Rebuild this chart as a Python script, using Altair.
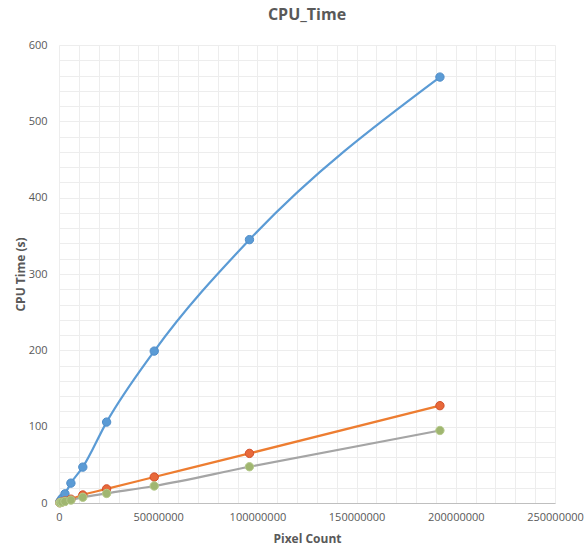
import altair as alt
import pandas as pd

pixels = [375000, 750000, 1500000, 3000000, 6000000, 12000000, 24000000, 48000000, 96000000, 192000000]
series_blue = [1.5, 3, 6, 12, 26, 47, 106, 199, 345, 558]
series_orange = [0.4, 0.8, 1.4, 2.6, 5, 10.5, 18.5, 34, 65, 127.5]
series_gray = [0.3, 0.6, 1.1, 2, 3.8, 7.5, 12.5, 22.3, 47.5, 95]
names = ["Series1", "Series2", "Series3"]

x_major = [0, 50000000, 100000000, 150000000, 200000000, 250000000]
x_minor = list(range(0, 250000001, 10000000))
y_major = [0, 100, 200, 300, 400, 500, 600]
y_minor = list(range(0, 601, 20))

rows = []
for name, vals in zip(names, [series_blue, series_orange, series_gray]):
    for p, v in zip(pixels, vals):
        rows.append({"series": name, "pixels": p, "cpu": v})
df = pd.DataFrame(rows)

line_colors = ["#5B9BD5", "#ED7D31", "#A5A5A5"]
fill_colors = ["#5B9BD5", "#E8693A", "#A0B670"]
stroke_colors = ["#4F8DC9", "#D2502C", "#B6CB8C"]

FONT = "Open Sans"
TXT = "#595959"

xscale = alt.Scale(domain=[0, 250000000], nice=False, zero=True)
yscale = alt.Scale(domain=[0, 600], nice=False)

# minor grid layer (no labels)
minor = alt.Chart(df).mark_point(opacity=0).encode(
    x=alt.X("pixels:Q", scale=xscale, axis=alt.Axis(
        values=x_minor, labels=False, ticks=False, domain=False, title=None,
        gridColor="#EDEDED", orient="bottom")),
    y=alt.Y("cpu:Q", scale=yscale, axis=alt.Axis(
        values=y_minor, labels=False, ticks=False, domain=False, title=None,
        gridColor="#EDEDED", orient="left")),
)

x_enc = alt.X(
    "pixels:Q",
    scale=xscale,
    axis=alt.Axis(
        title="Pixel Count",
        values=x_major,
        format="d",
        gridColor="#D9D9D9",
        ticks=False,
        domainColor="#BFBFBF",
        labelColor=TXT,
        labelFont=FONT,
        labelFontSize=11,
        labelPadding=8,
        labelOverlap=False,
        labelFlush=False,
        titleColor=TXT,
        titleFont=FONT,
        titleFontSize=12,
        titleFontWeight="bold",
        titleY=35,
        titleBaseline="middle",
        orient="bottom",
    ),
)
y_enc = alt.Y(
    "cpu:Q",
    scale=yscale,
    axis=alt.Axis(
        title="CPU Time (s)",
        values=y_major,
        format="d",
        gridColor="#D9D9D9",
        ticks=False,
        domain=False,
        labelColor=TXT,
        labelFont=FONT,
        labelFontSize=11,
        labelPadding=12,
        labelOverlap=False,
        titleColor=TXT,
        titleFont=FONT,
        titleFontSize=12,
        titleFontWeight="bold",
        titleX=-39,
        titleY=229,
        titleAngle=270,
        titleAlign="center",
        titleBaseline="middle",
        orient="left",
    ),
)

base = alt.Chart(df)
lines = base.mark_line(interpolate="monotone", strokeWidth=2.2).encode(
    x=x_enc,
    y=y_enc,
    color=alt.Color("series:N", scale=alt.Scale(domain=names, range=line_colors), legend=None),
)
points = base.mark_point(filled=True, size=70, opacity=1, strokeWidth=1).encode(
    x=alt.X("pixels:Q", scale=xscale, axis=None),
    y=alt.Y("cpu:Q", scale=yscale, axis=None),
    fill=alt.Fill("series:N", scale=alt.Scale(domain=names, range=fill_colors), legend=None),
    stroke=alt.Stroke("series:N", scale=alt.Scale(domain=names, range=stroke_colors), legend=None),
)

chart = (
    alt.layer(minor, lines, points)
    .resolve_scale(color="independent")
    .resolve_axis(x="independent", y="independent")
    .properties(
        width=496,
        height=458,
        title=alt.TitleParams(
            "CPU_Time",
            fontSize=16,
            fontWeight="bold",
            color=TXT,
            font=FONT,
            anchor="middle",
            baseline="alphabetic",
            offset=3,
        ),
        padding={"left": 59, "top": 45, "right": 29, "bottom": 46},
        autosize=alt.AutoSizeParams(type="none"),
        background="white",
    )
    .configure_view(stroke=None)
    .configure_axis(labelOverlap=False)
)

chart.save("out.html", embed_options={"renderer": "svg", "actions": False})
